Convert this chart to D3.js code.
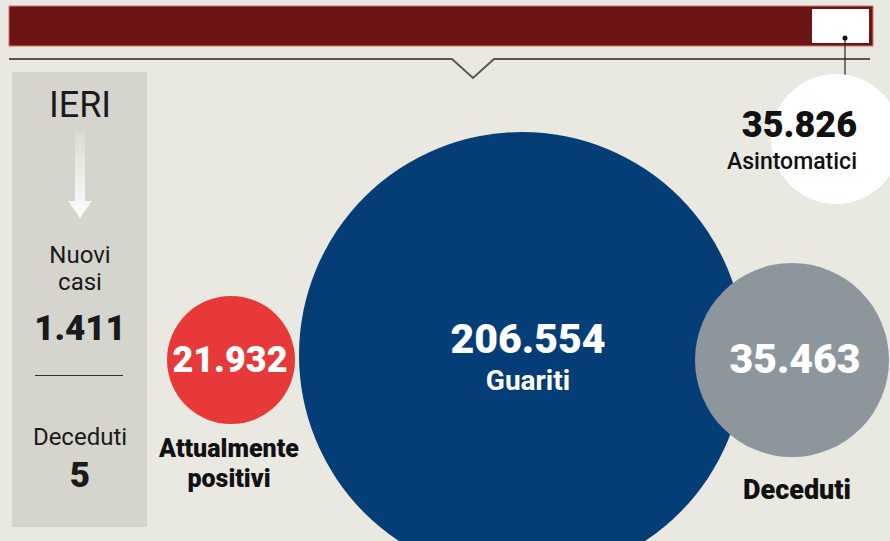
<!DOCTYPE html>
<html>
<head>
<meta charset="utf-8">
<script src="https://cdn.jsdelivr.net/npm/d3@7"></script>
<style>
  html, body { margin: 0; padding: 0; background: #e9e8e1; }
  svg { display: block; font-family: Roboto, "Liberation Sans", sans-serif; }
</style>
</head>
<body>
<div id="chart"></div>
<script>
// data
var bubbleNames = ["Attualmente positivi", "Guariti", "Deceduti", "Asintomatici"];
var bubbleValues = [21932, 206554, 35463, 35826];
var bubbleLabels = [["Attualmente", "positivi"], ["Guariti"], ["Deceduti"], ["Asintomatici"]];

var sideTitle = "IERI";
var sideNames = [["Nuovi", "casi"], ["Deceduti"]];
var sideValues = [1411, 5];

// layout (not data)
var width = 890, height = 541;
var bubbleLayout = [
  { cx: 231, cy: 360, r: 64, fill: "#e8393a", num: 36 },
  { cx: 522, cy: 355, r: 223, fill: "#053e76", num: 41 },
  { cx: 792, cy: 360, r: 97, fill: "#8d959d", num: 41 },
  { cx: 836, cy: 139, r: 65, fill: "#ffffff", num: 36 }
];

// italian thousands separator
var fmt = d3.formatLocale({ decimal: ",", thousands: ".", grouping: [3], currency: ["", "€"] }).format(",d");

var svg = d3.select("#chart").append("svg")
    .attr("width", width).attr("height", height);

// background
svg.append("rect").attr("width", width).attr("height", height).attr("fill", "#e9e8e1");

// top bar
svg.append("rect").attr("x", 9).attr("y", 6).attr("width", 864).attr("height", 40)
    .attr("fill", "#6d1414").attr("stroke", "#d9726f").attr("stroke-width", 1);
svg.append("rect").attr("x", 812).attr("y", 9).attr("width", 57).attr("height", 34)
    .attr("fill", "#ffffff");

// line with notch
svg.append("path")
    .attr("d", "M9,59 L452,59 L473,78 L494,59 L870,59")
    .attr("fill", "none").attr("stroke", "#555955").attr("stroke-width", 2);

// side panel
svg.append("rect").attr("x", 12).attr("y", 72).attr("width", 135).attr("height", 455)
    .attr("fill", "#d5d5ce");

var defs = svg.append("defs");
var grad = defs.append("linearGradient").attr("id", "arrowGrad")
    .attr("x1", 0).attr("y1", 0).attr("x2", 0).attr("y2", 1);
grad.append("stop").attr("offset", "0%").attr("stop-color", "#fff").attr("stop-opacity", 0.1);
grad.append("stop").attr("offset", "100%").attr("stop-color", "#fff").attr("stop-opacity", 1);

var px = 80;
svg.append("text").attr("x", px).attr("y", 117).attr("text-anchor", "middle")
    .attr("font-size", 36).attr("font-weight", 400).attr("fill", "#1a1a1a").text(sideTitle);

svg.append("path")
    .attr("d", "M" + (px - 5) + ",130 L" + (px + 5) + ",130 L" + (px + 5) + ",201 L" + (px + 12) + ",201 L" +
      px + ",218 L" + (px - 12) + ",201 L" + (px - 5) + ",201 Z")
    .attr("fill", "url(#arrowGrad)");

var side = svg.append("g").attr("text-anchor", "middle").attr("fill", "#1a1a1a");
sideNames[0].forEach(function (t, i) {
  side.append("text").attr("x", px).attr("y", 263 + i * 27).attr("font-size", 24).text(t);
});
side.append("text").attr("x", px).attr("y", 340).attr("font-size", 35).attr("font-weight", 900)
    .text(fmt(sideValues[0]));
svg.append("line").attr("x1", 35).attr("x2", 123).attr("y1", 375.5).attr("y2", 375.5)
    .attr("stroke", "#333").attr("stroke-width", 1.2);
side.append("text").attr("x", px).attr("y", 445).attr("font-size", 24).text(sideNames[1][0]);
side.append("text").attr("x", px).attr("y", 487).attr("font-size", 35).attr("font-weight", 900)
    .text(fmt(sideValues[1]));

// connector from white box to asintomatici bubble
svg.append("line").attr("x1", 845).attr("x2", 845).attr("y1", 38).attr("y2", 76)
    .attr("stroke", "#222").attr("stroke-width", 1.2);
svg.append("circle").attr("cx", 845).attr("cy", 38).attr("r", 2.5).attr("fill", "#111");

// bubbles
var bubbles = bubbleValues.map(function (v, i) {
  return Object.assign({ name: bubbleNames[i], value: v, label: bubbleLabels[i] }, bubbleLayout[i]);
});

// draw order: white, blue, red, gray
var order = [3, 1, 0, 2];
svg.append("g").selectAll("circle")
  .data(order.map(function (i) { return bubbles[i]; }))
  .join("circle")
    .attr("cx", function (d) { return d.cx; })
    .attr("cy", function (d) { return d.cy; })
    .attr("r", function (d) { return d.r; })
    .attr("fill", function (d) { return d.fill; });

// numbers inside bubbles
var nums = svg.append("g").attr("font-weight", 900);
// red
nums.append("text").attr("x", 230).attr("y", 372)
    .attr("text-anchor", "middle").attr("font-size", bubbles[0].num).attr("fill", "#fff")
    .text(fmt(bubbles[0].value));
// blue
nums.append("text").attr("x", 528).attr("y", 353)
    .attr("text-anchor", "middle").attr("font-size", bubbles[1].num).attr("fill", "#fff")
    .text(fmt(bubbles[1].value));
nums.append("text").attr("x", 528).attr("y", 390).attr("font-weight", 700)
    .attr("text-anchor", "middle").attr("font-size", 28).attr("fill", "#fff")
    .text(bubbles[1].label[0]);
// gray
nums.append("text").attr("x", 795).attr("y", 373)
    .attr("text-anchor", "middle").attr("font-size", bubbles[2].num).attr("fill", "#fff")
    .text(fmt(bubbles[2].value));
// white (asintomatici)
nums.append("text").attr("x", 857).attr("y", 137)
    .attr("text-anchor", "end").attr("font-size", bubbles[3].num).attr("fill", "#111")
    .text(fmt(bubbles[3].value));
nums.append("text").attr("x", 857).attr("y", 169)
    .attr("text-anchor", "end").attr("font-size", 23).attr("font-weight", 500).attr("fill", "#111")
    .text(bubbles[3].label[0]);

// outside labels
var outs = svg.append("g").attr("font-weight", 900).attr("fill", "#111").attr("text-anchor", "middle")
    .attr("font-size", 25);
bubbles[0].label.forEach(function (t, i) {
  outs.append("text").attr("x", 229).attr("y", 457 + i * 30).text(t);
});
outs.append("text").attr("x", 797).attr("y", 499).attr("font-size", 27).text(bubbles[2].label[0]);
</script>
</body>
</html>
